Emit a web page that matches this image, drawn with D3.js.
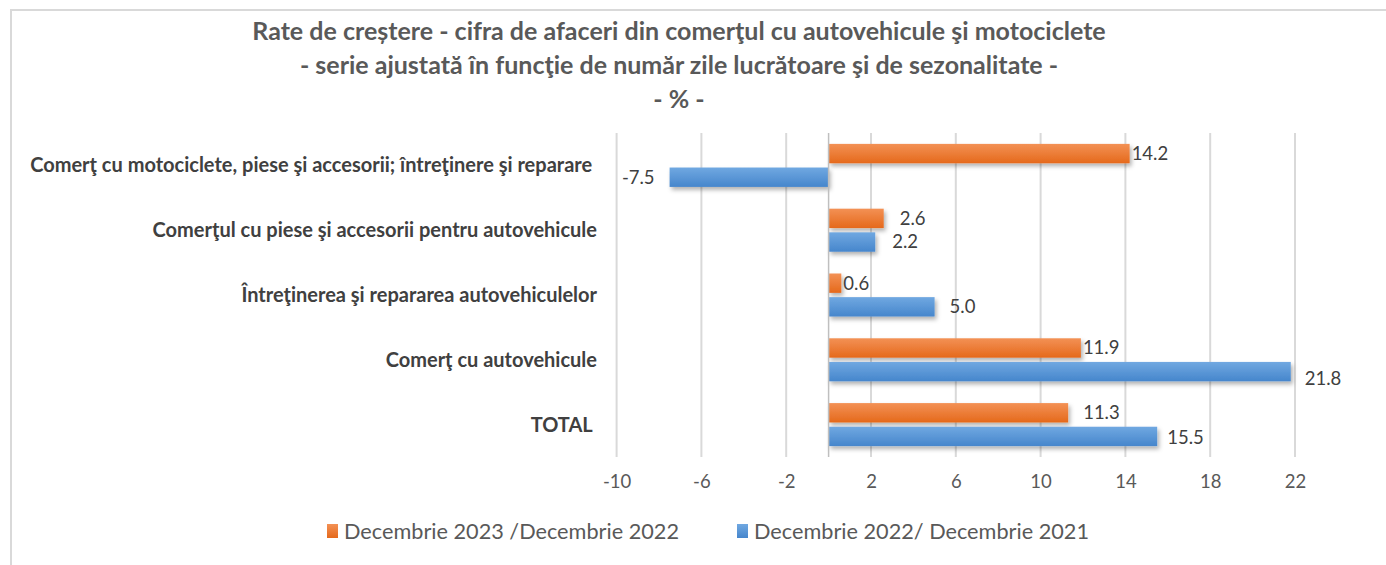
<!DOCTYPE html>
<html>
<head>
<meta charset="utf-8">
<script src="https://cdn.jsdelivr.net/npm/d3@7"></script>
<style>
    body { margin: 0; background: #fff; }
    text { font-family: Lato, "Open Sans", sans-serif; }
</style>
</head>
<body>
<div id="chart"></div>
<script>
// categories, top to bottom as in the chart
const categories = [
    "Comerţ cu motociclete, piese şi accesorii; întreţinere şi reparare ",
    "Comerţul cu piese şi accesorii pentru autovehicule",
    "Întreţinerea şi repararea autovehiculelor",
    "Comerţ cu autovehicule",
    "TOTAL "
]
const seriesNames = ["Decembrie 2023 /Decembrie 2022", "Decembrie 2022/ Decembrie 2021"]
const dec2023 = [14.2, 2.6, 0.6, 11.9, 11.3]
const dec2022 = [-7.5, 2.2, 5.0, 21.8, 15.5]
const xTicks = [-10, -6, -2, 2, 6, 10, 14, 18, 22]
const titleLines = [
    "Rate de creștere - cifra de afaceri din comerţul cu autovehicule şi motociclete",
    "- serie ajustată în funcţie de număr zile lucrătoare şi de sezonalitate -",
    "- % -"
]
// hand-moved data labels in the original (px from bar end, px down)
const labelDx = [[2, 16, 2, 2, 15], [15, 17, 15, 14, 10]]
const labelDy = [[0, 0, 0, 0, 0], [0, 0, 0, 7, 1]]

const colors = ["orange", "blue"]

document.addEventListener("DOMContentLoaded", draw)

function draw() {
    const width = 1386
    const height = 565
    const svg = d3.select("#chart").append("svg")
        .attr("width", width)
        .attr("height", height)

    const defs = svg.append("defs")
    gradient(defs, "orange", "#F39155", "#E5691B")
    gradient(defs, "blue", "#70A8E1", "#4686CC")
    const shadow = defs.append("filter").attr("id", "shadow")
        .attr("x", "-5%").attr("y", "-30%").attr("width", "115%").attr("height", "180%")
    shadow.append("feDropShadow")
        .attr("dx", 2).attr("dy", 3).attr("stdDeviation", 2)
        .attr("flood-color", "#000").attr("flood-opacity", 0.3)

    // chart frame
    svg.append("path")
        .attr("d", `M11,${height + 5}V10H${width + 5}`)
        .attr("fill", "none")
        .attr("stroke", "#D9D9D9")
        .attr("stroke-width", 2)

    svg.append("g").selectAll("text")
        .data(titleLines)
        .enter()
        .append("text")
        .attr("x", 679)
        .attr("y", (d, i) => 31 + i * 34)
        .attr("dy", "0.35em")
        .attr("text-anchor", "middle")
        .attr("font-size", 25)
        .attr("font-weight", "bold")
        .attr("fill", "#595959")
        .text(d => d)

    const x = d3.scaleLinear().domain([-10, 22]).range([616.6, 1295])
    const y = d3.scaleBand().domain(categories).range([133, 457])
        .paddingInner(0.336).paddingOuter(0.168)
    const inner = d3.scaleBand().domain([0, 1]).range([0, y.bandwidth()]).paddingInner(0.18)

    // gridlines
    svg.append("g").selectAll("line")
        .data(xTicks)
        .enter()
        .append("line")
        .attr("x1", d => x(d)).attr("x2", d => x(d))
        .attr("y1", 133).attr("y2", 457)
        .attr("stroke", "#D9D9D9")
        .attr("stroke-width", 2)

    const xAxis = svg.append("g")
        .attr("transform", "translate(0,457)")
        .call(d3.axisBottom(x).tickValues(xTicks).tickSize(0).tickPadding(18).tickFormat(d => String(d)))
    xAxis.select(".domain").remove()
    xAxis.selectAll("text")
        .attr("font-size", 18.5)
        .attr("fill", "#595959")
        .style("font-family", "Lato, sans-serif")

    // category labels
    svg.append("g").selectAll("text")
        .data(categories)
        .enter()
        .append("text")
        .attr("x", 597)
        .attr("y", d => y(d) + y.bandwidth() / 2)
        .attr("dy", "0.35em")
        .attr("text-anchor", "end")
        .attr("font-size", 20)
        .attr("font-weight", "bold")
        .attr("fill", "#404040")
        .style("white-space", "pre")
        .text(d => d)

    const series = [dec2023, dec2022]
    series.forEach((values, s) => {
        const rows = values.map((v, i) => ({cat: categories[i], value: v, i: i}))
        svg.append("g")
            .attr("filter", "url(#shadow)")
            .selectAll("rect")
            .data(rows)
            .enter()
            .append("rect")
            .attr("x", d => x(Math.min(0, d.value)))
            .attr("width", d => Math.abs(x(d.value) - x(0)))
            .attr("y", d => y(d.cat) + inner(s))
            .attr("height", inner.bandwidth())
            .attr("fill", `url(#${colors[s]})`)

        svg.append("g").selectAll("text")
            .data(rows)
            .enter()
            .append("text")
            .attr("x", d => d.value < 0 ? x(d.value) - labelDx[s][d.i] : x(d.value) + labelDx[s][d.i])
            .attr("y", d => y(d.cat) + inner(s) + inner.bandwidth() / 2 + labelDy[s][d.i])
            .attr("dy", "0.35em")
            .attr("text-anchor", d => d.value < 0 ? "end" : "start")
            .attr("font-size", 18.5)
            .attr("fill", "#404040")
            .text(d => d.value.toFixed(1))
    })

    // zero axis line
    svg.append("line")
        .attr("x1", x(0)).attr("x2", x(0))
        .attr("y1", 133).attr("y2", 457)
        .attr("stroke", "#BFBFBF")
        .attr("stroke-width", 1.5)

    // legend
    const legendX = [327, 737]
    const legend = svg.append("g").selectAll("g")
        .data(seriesNames)
        .enter()
        .append("g")
        .attr("transform", (d, i) => `translate(${legendX[i]},531)`)
    legend.append("rect")
        .attr("x", 0).attr("y", -7)
        .attr("width", 11).attr("height", 14)
        .attr("fill", (d, i) => `url(#${colors[i]})`)
    legend.append("text")
        .attr("x", 17)
        .attr("dy", "0.35em")
        .attr("font-size", 21.7)
        .attr("fill", "#595959")
        .text(d => d)
}

function gradient(defs, id, top, bottom) {
    const g = defs.append("linearGradient").attr("id", id)
        .attr("x1", 0).attr("y1", 0).attr("x2", 0).attr("y2", 1)
    g.append("stop").attr("offset", "0%").attr("stop-color", top)
    g.append("stop").attr("offset", "100%").attr("stop-color", bottom)
}
</script>
</body>
</html>
